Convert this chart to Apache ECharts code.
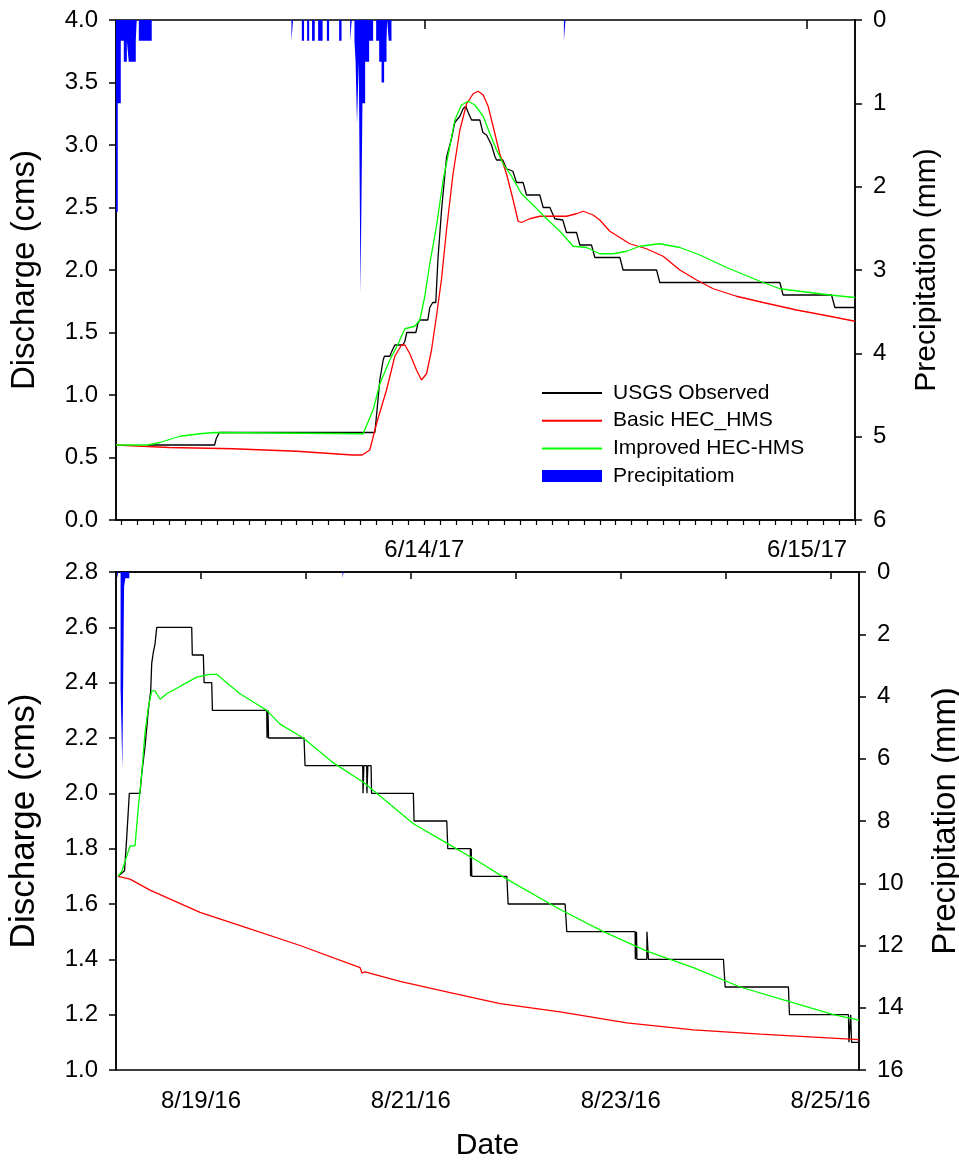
<!DOCTYPE html>
<html><head><meta charset="utf-8">
<script src="https://cdn.jsdelivr.net/npm/echarts@6/dist/echarts.min.js"></script>
<style>html,body{margin:0;padding:0;background:#fff}#c{width:959px;height:1163px}</style>
</head><body><div id="c"></div>
<script>
// ---------- Top panel (June 2017), x = hours since 6/13/17 00:00 ----------
const topTickPos = [24, 48];
const topTickLabels = ['6/14/17', '6/15/17'];
const topObserved = [[6.66,0.60],[10.85,0.60],[10.95,0.65],[11.05,0.65],[11.15,0.70],[20.9,0.70],[21.05,0.90],[21.21,1.12],[21.42,1.28],[21.5,1.31],[21.84,1.31],[22.0,1.36],[22.15,1.40],[22.65,1.40],[22.78,1.43],[22.9,1.50],[23.47,1.50],[23.59,1.57],[23.72,1.60],[24.22,1.60],[24.34,1.70],[24.53,1.74],[24.72,1.74],[24.78,1.90],[24.86,2.10],[25.08,2.48],[25.39,2.90],[25.70,3.05],[25.91,3.18],[26.23,3.23],[26.43,3.29],[26.60,3.31],[26.75,3.26],[26.96,3.20],[27.48,3.20],[27.67,3.10],[27.90,3.08],[28.21,3.00],[28.42,2.91],[28.53,2.88],[28.92,2.88],[29.15,2.81],[29.55,2.79],[29.78,2.70],[30.19,2.70],[30.41,2.60],[31.24,2.60],[31.45,2.50],[31.87,2.50],[32.18,2.41],[32.68,2.40],[32.91,2.30],[33.54,2.30],[33.75,2.20],[34.48,2.20],[34.69,2.10],[36.26,2.10],[36.46,2.00],[38.56,2.00],[38.76,1.90],[46.29,1.90],[46.49,1.80],[49.53,1.80],[49.74,1.70],[51,1.70]];
const topBasic = [[4.67,0.60],[8,0.58],[12,0.57],[16,0.55],[19.5,0.52],[20.1,0.52],[20.58,0.56],[21.0,0.77],[21.63,1.04],[22.15,1.31],[22.57,1.40],[22.78,1.40],[23.09,1.33],[23.51,1.20],[23.82,1.12],[24.14,1.17],[24.45,1.36],[24.76,1.63],[25.08,1.93],[25.39,2.32],[25.80,2.77],[26.23,3.12],[26.65,3.33],[27.06,3.41],[27.37,3.43],[27.69,3.40],[28.0,3.31],[28.31,3.15],[28.73,2.93],[29.15,2.77],[29.57,2.56],[29.88,2.39],[30.09,2.38],[30.61,2.41],[31.24,2.43],[32.91,2.43],[33.54,2.45],[33.96,2.47],[34.58,2.44],[35.0,2.40],[35.63,2.31],[36.88,2.21],[37.93,2.17],[38.97,2.11],[40.02,2.00],[41.07,1.92],[42.11,1.85],[43.57,1.79],[45.24,1.74],[47.34,1.68],[49.42,1.63],[51,1.59]];
const topImproved = [[4.67,0.60],[6.66,0.60],[7.42,0.62],[8.67,0.67],[9.92,0.69],[10.86,0.70],[20.16,0.69],[20.79,0.88],[21.21,1.09],[21.84,1.28],[22.36,1.41],[22.78,1.53],[23.40,1.55],[23.72,1.60],[24.03,1.79],[24.34,2.05],[24.76,2.35],[25.18,2.72],[25.60,2.99],[25.91,3.20],[26.33,3.32],[26.75,3.35],[27.17,3.32],[27.69,3.23],[28.11,3.09],[28.53,2.96],[28.94,2.85],[29.47,2.75],[30.09,2.61],[30.82,2.52],[31.66,2.41],[32.50,2.31],[33.33,2.19],[34.17,2.18],[35.0,2.13],[35.84,2.13],[36.68,2.15],[37.51,2.19],[38.76,2.21],[40.02,2.18],[41.27,2.12],[42.95,2.02],[45.04,1.91],[46.29,1.85],[47.54,1.83],[49.42,1.80],[51,1.78]];
const topPrecip = [[4.50,2.3],[4.78,1.0],[4.97,0.25],[5.16,0.5],[5.35,0.25],[5.47,0.5],[5.91,0.25],[5.97,0],[6.10,0.25],[6.91,0],[15.67,0.25],[15.77,0],[16.32,0.25],[16.46,0],[16.65,0.25],[16.78,0],[16.96,0.25],[17.13,0],[17.34,0.25],[17.62,0],[17.89,0.25],[18.03,0],[18.66,0.25],[18.81,0],[19.35,0.25],[19.45,0],[19.62,0.25],[19.69,0.5],[19.78,1.25],[19.85,0.75],[19.89,0.5],[20.0,3.29],[20.12,1.0],[20.29,0.5],[20.54,0.25],[20.79,0],[20.98,0.25],[21.17,0.5],[21.32,0.75],[21.48,0.5],[21.63,0.25],[21.67,0],[21.77,0.25],[21.94,0],[32.75,0.25],[32.85,0]];

// ---------- Bottom panel (August 2016), x = hours since 8/18/16 00:00 ----------
const botTickPos = [24, 72, 120, 168];
const botTickLabels = ['8/19/16', '8/21/16', '8/23/16', '8/25/16'];
const botDayTicks = [24, 48, 72, 96, 120, 144, 168];
const botObserved = [[5.0,1.70],[6.5,1.72],[6.84,1.80],[7.0,1.84],[7.4,1.84],[7.6,2.0],[10.04,2.0],[10.43,2.07],[11.19,2.17],[11.94,2.30],[12.49,2.37],[12.72,2.47],[13.09,2.51],[13.48,2.54],[13.87,2.60],[21.87,2.60],[22.0,2.50],[24.53,2.50],[24.7,2.40],[26.45,2.40],[26.6,2.30],[39.03,2.30],[39.1,2.20],[39.25,2.20],[39.3,2.30],[39.4,2.30],[39.45,2.20],[47.56,2.20],[47.79,2.10],[60.99,2.10],[61.05,2.0],[61.2,2.0],[61.25,2.1],[61.9,2.1],[61.95,2.0],[62.1,2.0],[62.15,2.1],[62.9,2.1],[63.0,2.0],[72.57,2.0],[72.73,1.9],[80.21,1.9],[80.44,1.8],[85.6,1.8],[85.65,1.7],[85.7,1.8],[85.75,1.7],[85.8,1.8],[85.93,1.7],[93.94,1.7],[94.24,1.6],[107.28,1.6],[107.66,1.5],[123.29,1.5],[123.35,1.4],[123.6,1.5],[123.7,1.4],[124.43,1.4],[125.97,1.4],[126.0,1.5],[126.15,1.5],[126.33,1.4],[143.49,1.4],[143.88,1.3],[158.36,1.3],[158.59,1.2],[172.09,1.2],[172.2,1.1],[172.5,1.1],[172.6,1.2],[172.8,1.1],[174.5,1.1]];
const botBasic = [[5.01,1.70],[7.76,1.69],[12.33,1.65],[23.77,1.57],[35.21,1.51],[46.65,1.45],[60.38,1.37],[60.8,1.35],[61.5,1.355],[69.53,1.32],[80.97,1.28],[92.41,1.24],[106.13,1.21],[121.39,1.17],[136.63,1.145],[151.96,1.13],[174.5,1.11]];
const botImproved = [[5.01,1.70],[5.93,1.72],[7.76,1.81],[8.90,1.81],[9.66,1.95],[10.43,2.07],[11.19,2.22],[11.94,2.31],[12.72,2.37],[13.48,2.37],[14.62,2.34],[16.15,2.36],[18.44,2.38],[20.73,2.40],[23.02,2.42],[26.06,2.43],[27.59,2.43],[29.88,2.40],[32.92,2.36],[35.97,2.33],[39.03,2.30],[42.07,2.25],[47.40,2.20],[54.27,2.11],[61.13,2.04],[64.95,1.99],[72.57,1.89],[80.21,1.82],[87.83,1.75],[93.94,1.69],[106.13,1.58],[116.04,1.50],[125.97,1.43],[136.63,1.37],[147.31,1.30],[157.99,1.25],[168.66,1.20],[174.5,1.18]];
const botPrecip = [[4.78,0.2],[5.08,0],[5.6,3.74],[6.0,6.3],[6.4,0.47],[6.68,0.2],[7.6,0],[56.37,0.2],[56.6,0]];

const seriesNames = ['USGS Observed', 'Basic HEC_HMS', 'Improved HEC-HMS', 'Precipitatiom'];

function hourly(a, b) { const r = []; for (let h = a; h <= b; h++) r.push(h); return r; }

const FONT = "'Liberation Sans', Arial, sans-serif";
const black = '#000';
const lineAx = { lineStyle: { color: black, width: 1.5 } };

function yAx(grid, pos, min, max, interval, inverse, name, gap, nameSize, dec) {
  return {
    type: 'value', gridIndex: grid, position: pos, min: min, max: max, interval: interval, inverse: inverse,
    name: name, nameLocation: 'middle', nameRotate: 90, nameGap: gap,
    nameTextStyle: { fontFamily: FONT, fontSize: nameSize, color: black },
    axisLine: { show: true, lineStyle: { color: black, width: 1.5 } },
    axisTick: { show: true, length: 7, lineStyle: { color: black, width: 1.5 } },
    axisLabel: { fontFamily: FONT, fontSize: 24, color: black, margin: 18,
      formatter: v => dec ? v.toFixed(1) : String(Math.round(v)) },
    splitLine: { show: false }
  };
}

function lineSeries(name, data, xi, yi, color) {
  return { type: 'line', name: name, data: data, xAxisIndex: xi, yAxisIndex: yi,
    showSymbol: false, symbol: 'none', color: color,
    lineStyle: { color: color, width: 1.3 }, animation: false };
}
function precipSeries(data, xi, yi) {
  return { type: 'line', name: seriesNames[3], data: data, xAxisIndex: xi, yAxisIndex: yi,
    step: 'end', showSymbol: false, symbol: 'none', color: '#0000ff',
    lineStyle: { width: 0, opacity: 0 }, areaStyle: { color: '#0000ff', opacity: 1, origin: 'start' },
    animation: false };
}

const option = {
  animation: false,
  backgroundColor: '#fff',
  textStyle: { fontFamily: FONT },
  grid: [
    { left: 116, top: 20, width: 739, height: 500, show: true, borderColor: black, borderWidth: 1.5,
      backgroundColor: 'transparent', containLabel: false, outerBoundsMode: 'none' },
    { left: 116, top: 572, width: 743, height: 498, show: true, borderColor: black, borderWidth: 1.5,
      backgroundColor: 'transparent', containLabel: false, outerBoundsMode: 'none' }
  ],
  legend: {
    orient: 'vertical', left: 536, top: 377.5, itemWidth: 60, itemHeight: 12, itemGap: 6.7,
    itemStyle: { opacity: 0 },
    textStyle: { fontFamily: FONT, fontSize: 21, color: black, padding: [0, 0, 0, 6] },
    data: [
      { name: seriesNames[0] }, { name: seriesNames[1] }, { name: seriesNames[2] },
      { name: seriesNames[3], icon: 'rect', itemStyle: { color: '#0000ff', opacity: 1 } }
    ]
  },
  xAxis: [
    { type: 'value', gridIndex: 0, min: 4.67, max: 51,
      axisLine: lineAx,
      axisTick: { customValues: hourly(5, 51), length: 5, lineStyle: { color: black, width: 1.2 } },
      axisLabel: { customValues: topTickPos, fontFamily: FONT, fontSize: 24, color: black, margin: 18,
        formatter: v => topTickLabels[topTickPos.indexOf(Math.round(v))] || '' },
      splitLine: { show: false } },
    { type: 'value', gridIndex: 0, min: 4.67, max: 51, position: 'bottom',
      axisLine: { show: false },
      axisTick: { customValues: topTickPos, length: 9, lineStyle: { color: black, width: 1.5 } },
      axisLabel: { show: false }, splitLine: { show: false } },
    { type: 'value', gridIndex: 1, min: 4.55, max: 174.5,
      axisLine: lineAx,
      axisTick: { customValues: botDayTicks, length: 7, lineStyle: { color: black, width: 1.5 } },
      axisLabel: { customValues: botTickPos, fontFamily: FONT, fontSize: 24, color: black, margin: 19,
        formatter: v => botTickLabels[botTickPos.indexOf(Math.round(v))] || '' },
      name: 'Date', nameLocation: 'middle', nameGap: 61,
      nameTextStyle: { fontFamily: FONT, fontSize: 30, color: black },
      splitLine: { show: false } }
  ],
  yAxis: [
    yAx(0, 'left', 0, 4, 0.5, false, 'Discharge (cms)', 75, 33, true),
    yAx(0, 'right', 0, 6, 1, true, 'Precipitation (mm)', 57, 30, false),
    yAx(1, 'left', 1.0, 2.8, 0.2, false, 'Discharge (cms)', 74, 35, true),
    yAx(1, 'right', 0, 16, 2, true, 'Precipitation (mm)', 70, 33, false)
  ],
  series: [
    precipSeries(topPrecip, 0, 1),
    lineSeries(seriesNames[0], topObserved, 0, 0, '#000000'),
    lineSeries(seriesNames[1], topBasic, 0, 0, '#ff0000'),
    lineSeries(seriesNames[2], topImproved, 0, 0, '#00ff00'),
    precipSeries(botPrecip, 2, 3),
    lineSeries(seriesNames[0], botObserved, 2, 2, '#000000'),
    lineSeries(seriesNames[1], botBasic, 2, 2, '#ff0000'),
    lineSeries(seriesNames[2], botImproved, 2, 2, '#00ff00')
  ]
};

const chart = echarts.init(document.getElementById('c'), null, { renderer: 'canvas' });
chart.setOption(option);
</script></body></html>
